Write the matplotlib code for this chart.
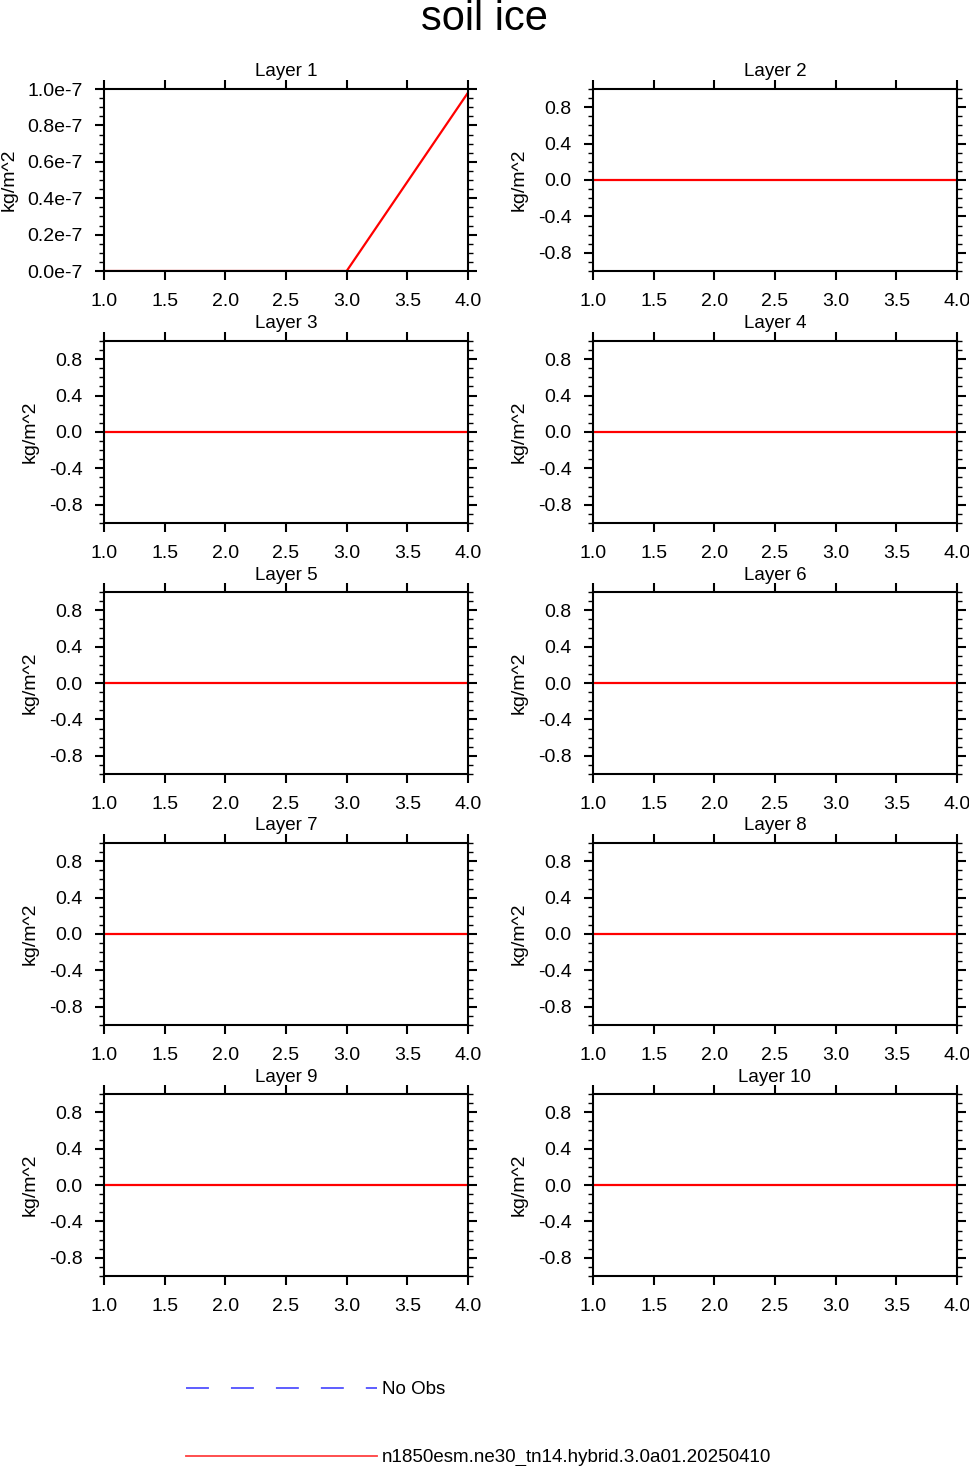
import matplotlib
matplotlib.use("Agg")
import matplotlib.pyplot as plt
from matplotlib.lines import Line2D
from matplotlib.ticker import MultipleLocator, FuncFormatter

plt.rcParams['font.family'] = ['Liberation Sans', 'DejaVu Sans']

years = [1, 2, 3, 4]
layer_names = ["Layer %d" % i for i in range(1, 11)]
# soil ice per layer (kg/m^2); only layer 1 is non-zero
layer_values = [
    [0.0, 0.0, 0.0, 0.98e-7],
    [0.0, 0.0, 0.0, 0.0],
    [0.0, 0.0, 0.0, 0.0],
    [0.0, 0.0, 0.0, 0.0],
    [0.0, 0.0, 0.0, 0.0],
    [0.0, 0.0, 0.0, 0.0],
    [0.0, 0.0, 0.0, 0.0],
    [0.0, 0.0, 0.0, 0.0],
    [0.0, 0.0, 0.0, 0.0],
    [0.0, 0.0, 0.0, 0.0],
]
case_name = "n1850esm.ne30_tn14.hybrid.3.0a01.20250410"
obs_name = "No Obs"

W, H = 969, 1466
fig = plt.figure(figsize=(W / 100, H / 100), dpi=100)

col_left = [104, 593]
ax_w = 364
row_top = [89, 341, 592, 843, 1094]
ax_h = 182

fig.text(0.5, 1 - 19 / H, "soil ice", ha='center', va='center', fontsize=30)

for i, (name, vals) in enumerate(zip(layer_names, layer_values)):
    r, c = divmod(i, 2)
    x0 = col_left[c] / W
    y0 = 1 - (row_top[r] + ax_h) / H
    ax = fig.add_axes([x0, y0, ax_w / W, ax_h / H])
    ax.plot(years, vals, color='red', lw=1.6)
    ax.set_xlim(1, 4)
    ax.xaxis.set_major_locator(MultipleLocator(0.5))
    ax.xaxis.set_major_formatter(FuncFormatter(lambda v, p: "%.1f" % v))
    if i == 0:
        ax.set_ylim(0, 1e-7)
        ax.yaxis.set_major_locator(MultipleLocator(0.2e-7))
        ax.yaxis.set_minor_locator(MultipleLocator(0.05e-7))
        ax.yaxis.set_major_formatter(FuncFormatter(lambda v, p: "%.1fe-7" % (v * 1e7 + 0.0)))
        ax.yaxis.get_offset_text().set_visible(False)
    else:
        ax.set_ylim(-1, 1)
        ax.yaxis.set_major_locator(MultipleLocator(0.4))
        ax.yaxis.set_minor_locator(MultipleLocator(0.1))
        ax.yaxis.set_major_formatter(FuncFormatter(lambda v, p: "%.1f" % (v + 0.0)))
    ax.tick_params(axis='both', which='major', direction='out', length=6.5, width=1.5,
                   top=True, right=True, labelsize=14)
    ax.tick_params(axis='x', which='major', pad=9)
    ax.tick_params(axis='y', which='major', pad=9)
    ax.tick_params(axis='both', which='minor', direction='out', length=3.5, width=1,
                   top=False, right=True)
    for s in ax.spines.values():
        s.set_linewidth(1.5)
    ax.set_title(name, fontsize=13.5, pad=9)
    ax.set_ylabel("kg/m^2", fontsize=14, labelpad=7)

# legend drawn at the bottom of the figure
lx0, lx1 = 186 / W, 377 / W
fig.add_artist(Line2D([lx0, lx1], [1 - 1388 / H] * 2, color='#5050ff', lw=1.3,
                      dashes=(12.7, 12.2), transform=fig.transFigure))
fig.text(382 / W, 1 - 1390 / H, obs_name, va='center', fontsize=13.5)
fig.add_artist(Line2D([lx0, lx1], [1 - 1456 / H] * 2, color='#ff4040', lw=1.3,
                      transform=fig.transFigure))
fig.text(382 / W, 1 - 1457 / H, case_name, va='center', fontsize=13.5)

fig.savefig("out.png", dpi=100)
